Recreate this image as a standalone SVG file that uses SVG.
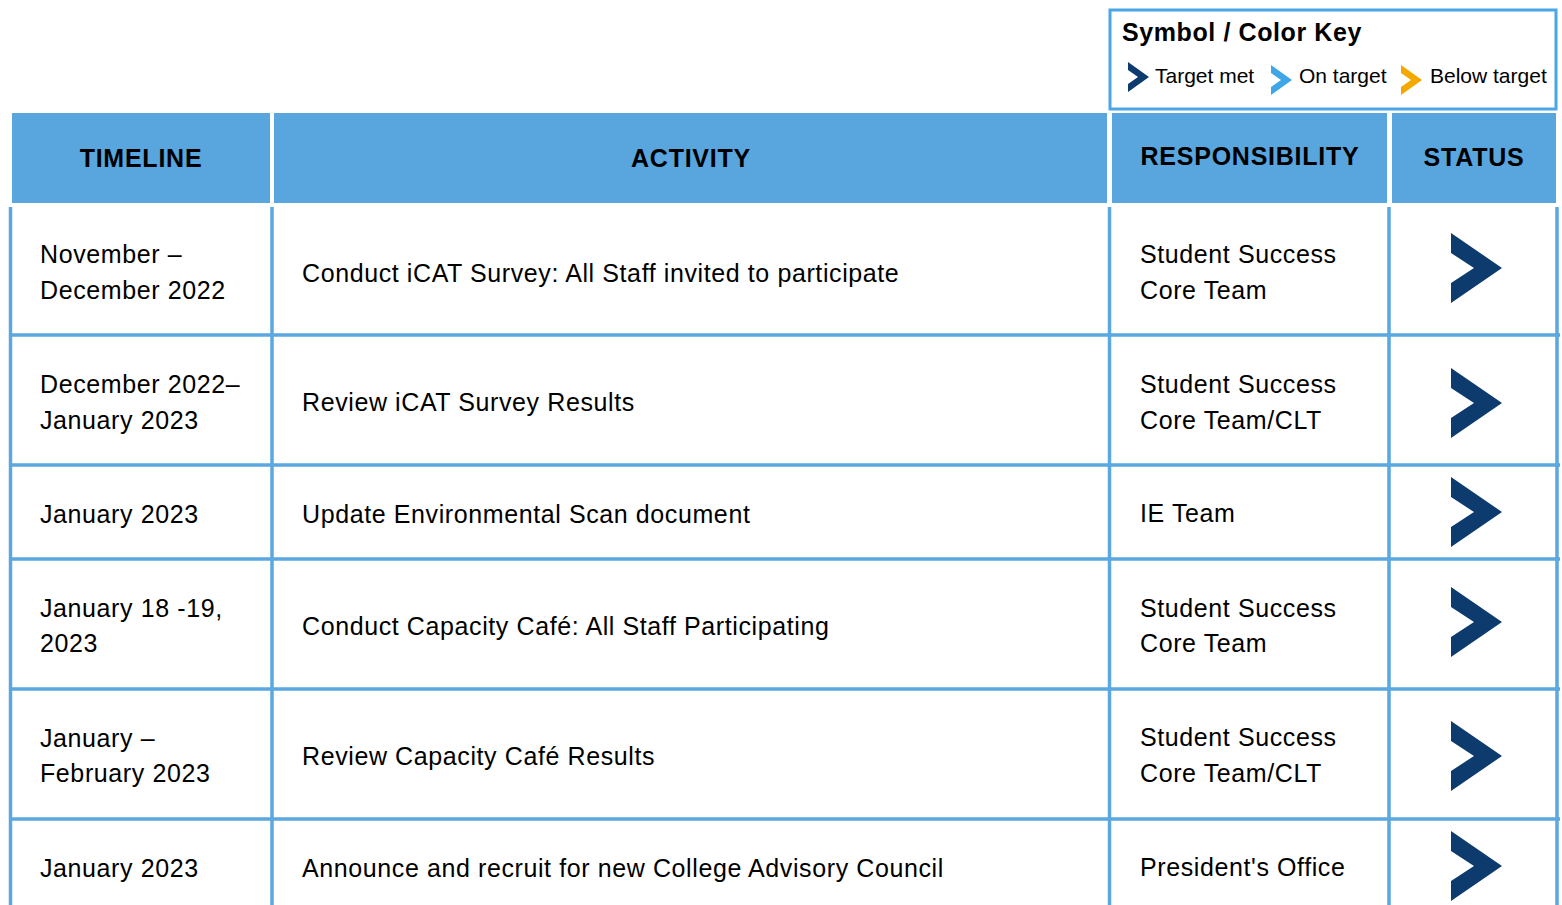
<svg xmlns="http://www.w3.org/2000/svg" width="1562" height="905" viewBox="0 0 1562 905">
<defs>
<style>
.t{font-family:"Liberation Sans",Arial,sans-serif;font-size:25px;letter-spacing:0.6px;fill:#000}
.h{font-family:"Liberation Sans",Arial,sans-serif;font-size:25px;letter-spacing:0.75px;font-weight:bold;fill:#000;text-anchor:middle}
.k{font-family:"Liberation Sans",Arial,sans-serif;font-size:21px;fill:#000}
.hd{fill:#59A5DD}
.g{stroke:#5BA7E0;stroke-width:3.5;fill:none}
.cv{fill:#0D3B6E}
</style>
<path id="chev" d="M0,0 L51,35 L0,70 L0,50 L23,35 L0,20 Z"/>
<path id="chs" d="M0,0 L21,15 L0,30 L0,22 L10,15 L0,8 Z"/>
</defs>
<rect width="1562" height="905" fill="#fff"/>
<g id="key">
<rect x="1110" y="10" width="446" height="99" fill="#fff" stroke="#4BA6E6" stroke-width="3"/>
<text x="1122" y="41" style="font-family:'Liberation Sans',Arial,sans-serif;font-size:25px;letter-spacing:0.6px;font-weight:bold">Symbol / Color Key</text>
<use href="#chs" x="1128" y="62" fill="#0D3B6E"/>
<text class="k" x="1155" y="83">Target met</text>
<use href="#chs" x="1271" y="65" fill="#3FA7E8"/>
<text class="k" x="1299" y="83">On target</text>
<use href="#chs" x="1401" y="65" fill="#F5A800"/>
<text class="k" x="1430" y="83">Below target</text>
</g>
<g id="header">
<rect class="hd" x="12" y="113" width="258" height="90"/>
<rect class="hd" x="274" y="113" width="833" height="90"/>
<rect class="hd" x="1112" y="113" width="275" height="90"/>
<rect class="hd" x="1392" y="113" width="164" height="90"/>
<text class="h" x="141" y="167">TIMELINE</text>
<text class="h" x="691" y="167">ACTIVITY</text>
<text class="h" x="1250" y="165">RESPONSIBILITY</text>
<text class="h" x="1474" y="166">STATUS</text>
</g>
<g id="grid">
<path class="g" d="M10.5,207V905 M272,207V905 M1109.5,207V905 M1389,207V905 M1557,207V905"/>
<path class="g" d="M9,335H1560 M9,465H1560 M9,559H1560 M9,689H1560 M9,819H1560"/>
</g>
<g id="row1">
<text class="t" x="40" y="263">November –</text>
<text class="t" x="40" y="299">December 2022</text>
<text class="t" x="302" y="282">Conduct iCAT Survey: All Staff invited to participate</text>
<text class="t" x="1140" y="263">Student Success</text>
<text class="t" x="1140" y="299">Core Team</text>
<use class="cv" href="#chev" x="1451" y="233"/>
</g>
<g id="row2">
<text class="t" x="40" y="393">December 2022–</text>
<text class="t" x="40" y="429">January 2023</text>
<text class="t" x="302" y="411">Review iCAT Survey Results</text>
<text class="t" x="1140" y="393">Student Success</text>
<text class="t" x="1140" y="429">Core Team/CLT</text>
<use class="cv" href="#chev" x="1451" y="368"/>
</g>
<g id="row3">
<text class="t" x="40" y="523">January 2023</text>
<text class="t" x="302" y="523">Update Environmental Scan document</text>
<text class="t" x="1140" y="522">IE Team</text>
<use class="cv" href="#chev" x="1451" y="477"/>
</g>
<g id="row4">
<text class="t" x="40" y="617">January 18 -19,</text>
<text class="t" x="40" y="652">2023</text>
<text class="t" x="302" y="635">Conduct Capacity Café: All Staff Participating</text>
<text class="t" x="1140" y="617">Student Success</text>
<text class="t" x="1140" y="652">Core Team</text>
<use class="cv" href="#chev" x="1451" y="587"/>
</g>
<g id="row5">
<text class="t" x="40" y="747">January –</text>
<text class="t" x="40" y="782">February 2023</text>
<text class="t" x="302" y="765">Review Capacity Café Results</text>
<text class="t" x="1140" y="746">Student Success</text>
<text class="t" x="1140" y="782">Core Team/CLT</text>
<use class="cv" href="#chev" x="1451" y="721"/>
</g>
<g id="row6">
<text class="t" x="40" y="877">January 2023</text>
<text class="t" x="302" y="877">Announce and recruit for new College Advisory Council</text>
<text class="t" x="1140" y="876">President's Office</text>
<use class="cv" href="#chev" x="1451" y="831"/>
</g>
</svg>
